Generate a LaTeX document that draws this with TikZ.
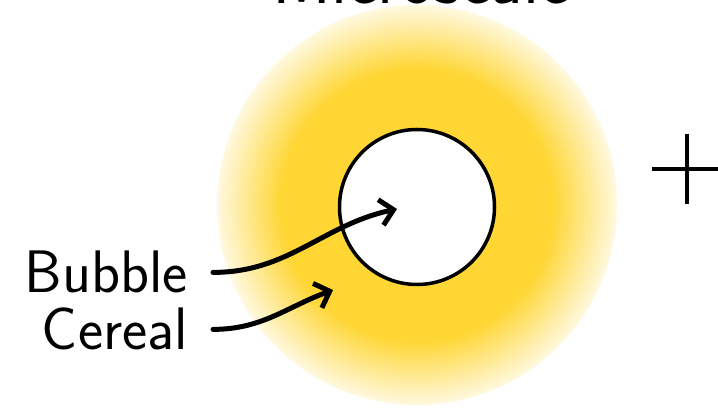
\documentclass[tikz,border=0pt]{standalone}
\usepackage{fontspec}
\usetikzlibrary{arrows.meta}
\definecolor{cheese}{HTML}{FFD634}
\pgfdeclareradialshading{glow}{\pgfpointorigin}{color(0bp)=(cheese); color(17bp)=(cheese); color(25bp)=(cheese!15); color(50bp)=(cheese!15)}
\begin{document}
\begin{tikzpicture}[x=1pt,y=1pt,
  word/.style={font=\sffamily\fontsize{60}{72}\selectfont,inner sep=0pt,anchor=base east},
  curly/.style={line width=5pt,line cap=round,-{Straight Barb[length=13pt,width=26pt]}}]
  \useasboundingbox (0,0) rectangle (718,409);
  % title, cut by the top edge
  \node[font=\sffamily\fontsize{72}{86}\selectfont,inner sep=0pt,anchor=base] (title) at (421,405) {Microscale};
  % cereal piece with the bubble inside
  \shade[shading=glow] (417,204) circle (200pt);
  \draw[line width=3.5pt,fill=white] (417,202) circle (77.5pt);
  % labels and arrows
  \node[word] (bubble) at (188,116) {Bubble};
  \node[word] (cereal) at (188,59) {Cereal};
  \coordinate (bubbletip) at (397,200);
  \coordinate (cerealtip) at (333,119);
  \draw[curly] ([xshift=25pt]bubble.east) to[out=0,in=192] (bubbletip);
  \draw[curly] ([xshift=25pt]cereal.east) to[out=0,in=200] (cerealtip);
  % plus
  \draw[line width=3.5pt] (652,240) -- (724,240);
  \draw[line width=3.5pt] (687,275) -- (687,205);
\end{tikzpicture}
\end{document}
